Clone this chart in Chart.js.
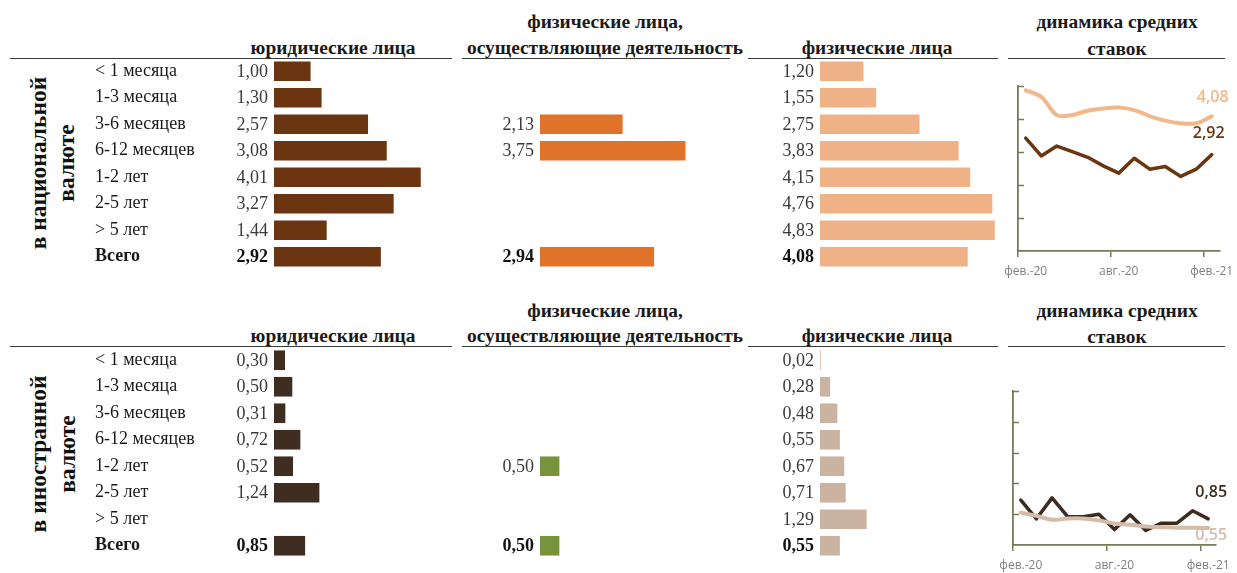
<!DOCTYPE html>
<html><head><meta charset="utf-8">
<script src="https://cdn.jsdelivr.net/npm/chart.js@4.4.1/dist/chart.umd.min.js"></script>
<style>
html,body{margin:0;padding:0;background:#fff;}
body{width:1237px;height:573px;position:relative;overflow:hidden;font-family:"Liberation Serif",serif;color:#111;}
canvas{position:absolute;}
.h{position:absolute;font-weight:bold;font-size:19.4px;white-space:nowrap;line-height:1;transform:translate(-50%,-50%);color:#1a1a1a;}
.u{position:absolute;height:0;border-top:1.6px solid #3a3a3a;}
.v{position:absolute;font-weight:bold;font-size:23.5px;white-space:nowrap;line-height:1;transform:translate(-50%,-50%) rotate(-90deg);color:#111;}
</style></head><body>

<div class="h" style="left:605px;top:22px">физические лица,</div>
<div class="h" style="left:333px;top:48px">юридические лица</div>
<div class="h" style="left:605px;top:48px">осуществляющие деятельность</div>
<div class="h" style="left:877px;top:48px">физические лица</div>
<div class="h" style="left:1117px;top:22px">динамика средних</div>
<div class="h" style="left:1117px;top:49px">ставок</div>
<div class="u" style="left:10px;width:442px;top:58px"></div>
<div class="u" style="left:462px;width:268px;top:58px"></div>
<div class="u" style="left:748px;width:250px;top:58px"></div>
<div class="u" style="left:1008px;width:217px;top:58px"></div>
<div class="v" style="left:39px;top:163px">в национальной</div>
<div class="v" style="left:67px;top:163px">валюте</div>

<div class="h" style="left:605px;top:311px">физические лица,</div>
<div class="h" style="left:333px;top:336px">юридические лица</div>
<div class="h" style="left:605px;top:336px">осуществляющие деятельность</div>
<div class="h" style="left:877px;top:336px">физические лица</div>
<div class="h" style="left:1117px;top:311px">динамика средних</div>
<div class="h" style="left:1117px;top:337px">ставок</div>
<div class="u" style="left:10px;width:442px;top:346px"></div>
<div class="u" style="left:462px;width:268px;top:346px"></div>
<div class="u" style="left:748px;width:250px;top:346px"></div>
<div class="u" style="left:1008px;width:217px;top:346px"></div>
<div class="v" style="left:39px;top:454px">в иностранной</div>
<div class="v" style="left:68px;top:454px">валюте</div>

<canvas id="natLegal" style="left:95px;top:58px" width="362" height="212"></canvas>
<canvas id="natEnt" style="left:500px;top:58px" width="234" height="212"></canvas>
<canvas id="natInd" style="left:775px;top:58px" width="226" height="212"></canvas>
<canvas id="natTrend" style="left:990px;top:60px" width="247" height="222"></canvas>

<canvas id="fxLegal" style="left:95px;top:347px" width="362" height="212"></canvas>
<canvas id="fxEnt" style="left:500px;top:347px" width="234" height="212"></canvas>
<canvas id="fxInd" style="left:775px;top:347px" width="226" height="212"></canvas>
<canvas id="fxTrend" style="left:990px;top:360px" width="247" height="213"></canvas>

<script>
const categories = ['< 1 месяца','1-3 месяца','3-6 месяцев','6-12 месяцев','1-2 лет','2-5 лет','> 5 лет','Всего'];
const natLegal = [1.00,1.30,2.57,3.08,4.01,3.27,1.44,2.92];
const natEntrepreneurs = [null,null,2.13,3.75,null,null,null,2.94];
const natIndividuals = [1.20,1.55,2.75,3.83,4.15,4.76,4.83,4.08];
const fxLegal = [0.30,0.50,0.31,0.72,0.52,1.24,null,0.85];
const fxEntrepreneurs = [null,null,null,null,0.50,null,null,0.50];
const fxIndividuals = [0.02,0.28,0.48,0.55,0.67,0.71,1.29,0.55];

const months = ['фев.-20','мар.-20','апр.-20','май.-20','июн.-20','июл.-20','авг.-20','сен.-20','окт.-20','ноя.-20','дек.-20','янв.-21','фев.-21'];
const natLegalTrend = [3.42,2.88,3.18,3.01,2.84,2.58,2.36,2.81,2.48,2.56,2.26,2.48,2.92];
const natIndividualsTrend = [4.87,4.67,4.12,4.12,4.25,4.32,4.35,4.27,4.09,3.95,3.87,3.87,4.08];
const fxLegalTrend = [1.46,0.85,1.53,0.92,0.92,1.00,0.50,0.98,0.47,0.71,0.71,1.11,0.85];
const fxIndividualsTrend = [1.05,0.95,0.82,0.86,0.86,0.80,0.70,0.66,0.60,0.58,0.56,0.56,0.55];
const trendTickLabels = ['фев.-20','авг.-20','фев.-21'];

const fmt = v => v.toFixed(2).replace('.', ',');
const totalIndex = categories.length - 1;

const valueLabels = {
  id: 'valueLabels',
  afterDatasetsDraw(chart) {
    const ctx = chart.ctx, xs = chart.scales.x, ys = chart.scales.y;
    const x0 = xs.getPixelForValue(0);
    ctx.save();
    ctx.textAlign = 'right';
    ctx.textBaseline = 'middle';
    chart.data.datasets[0].data.forEach((v, i) => {
      if (v == null) return;
      const bold = i === totalIndex;
      ctx.font = (bold ? 'bold ' : '') + '18px "Liberation Serif"';
      ctx.fillStyle = bold ? '#111' : '#3a3a3a';
      ctx.fillText(fmt(v), x0 - 6, ys.getPixelForValue(i) + 1);
    });
    ctx.restore();
  }
};

function barChart(id, data, color, o) {
  return new Chart(document.getElementById(id), {
    type: 'bar',
    data: { labels: categories, datasets: [{ data, backgroundColor: color, borderWidth: 0, barPercentage: 0.74, categoryPercentage: 1 }] },
    options: {
      indexAxis: 'y', responsive: false, animation: false, events: [],
      devicePixelRatio: 1,
      layout: { padding: { left: o.padLeft, right: 0, top: 0, bottom: 0 } },
      plugins: { legend: { display: false }, tooltip: { enabled: false } },
      scales: {
        x: { display: false, min: 0, max: o.max },
        y: {
          display: o.showCats,
          grid: { display: false }, border: { display: false },
          ticks: {
            crossAlign: 'far', padding: 0, color: '#1a1a1a',
            font: c => ({ family: 'Liberation Serif', size: 18, weight: c.index === totalIndex ? 'bold' : 'normal' })
          },
          afterFit: s => { s.width = o.axisW; s.paddingTop = 0; s.paddingBottom = 0; }
        }
      }
    },
    plugins: [valueLabels]
  });
}

barChart('natLegal', natLegal, '#6b3511', { showCats: true, axisW: 179, padLeft: 0, max: 5 });
barChart('natEnt', natEntrepreneurs, '#e0732a', { showCats: false, axisW: 0, padLeft: 40, max: 5 });
barChart('natInd', natIndividuals, '#efb287', { showCats: false, axisW: 0, padLeft: 45, max: 5 });
barChart('fxLegal', fxLegal, '#3f2d22', { showCats: true, axisW: 179, padLeft: 0, max: 5 });
barChart('fxEnt', fxEntrepreneurs, '#77933c', { showCats: false, axisW: 0, padLeft: 40, max: 5 });
barChart('fxInd', fxIndividuals, '#cbb3a1', { showCats: false, axisW: 0, padLeft: 45, max: 5 });

const axisColor = '#767a58';

const trendDecor = {
  id: 'trendDecor',
  afterDraw(chart) {
    const ctx = chart.ctx, ys = chart.scales.y, xs = chart.scales.x;
    ctx.save();
    ctx.strokeStyle = axisColor;
    ctx.lineWidth = 1.5;
    ys.ticks.forEach(t => {
      if (t.value === 0) return;
      const y = Math.round(ys.getPixelForValue(t.value)) + 0.5;
      ctx.beginPath();
      ctx.moveTo(xs.left, y);
      ctx.lineTo(xs.left + 6, y);
      ctx.stroke();
    });
    ctx.font = '600 16px "Open Sans"';
    ctx.textAlign = 'center';
    ctx.textBaseline = 'middle';
    chart.data.datasets.forEach((ds, di) => {
      const meta = chart.getDatasetMeta(di);
      const last = meta.data[meta.data.length - 1];
      ctx.fillStyle = ds.labelColor;
      ctx.fillText(fmt(ds.data[ds.data.length - 1]), last.x + ds.labelDx, last.y + ds.labelDy);
    });
    ctx.restore();
  }
};

function trendChart(id, light, dark, lightColor, darkColor, lay) {
  return new Chart(document.getElementById(id), {
    type: 'line',
    data: {
      labels: months,
      datasets: [
        { data: light, borderColor: lightColor, borderWidth: 4, tension: 0.35, pointRadius: 0, fill: false,
          labelColor: lay.lightLabelColor, labelDx: lay.lightDx, labelDy: lay.lightDy, borderCapStyle: 'round', borderJoinStyle: 'round' },
        { data: dark, borderColor: darkColor, borderWidth: 3.5, tension: 0, pointRadius: 0, fill: false,
          labelColor: darkColor, labelDx: lay.darkDx, labelDy: lay.darkDy, borderCapStyle: 'round', borderJoinStyle: 'round' }
      ]
    },
    options: {
      responsive: false, animation: false, events: [], devicePixelRatio: 1,
      layout: { padding: { left: lay.padLeft, right: lay.padRight, top: lay.padTop, bottom: 0 } },
      plugins: { legend: { display: false }, tooltip: { enabled: false } },
      scales: {
        x: {
          type: 'category', offset: true,
          grid: { offset: true, drawOnChartArea: false, drawTicks: true, tickLength: 6, lineWidth: 1.5,
                  color: c => (c.index % 6 === 0 && c.index < months.length) ? axisColor : 'rgba(0,0,0,0)' },
          border: { display: true, color: axisColor, width: 1.8 },
          ticks: {
            autoSkip: false, maxRotation: 0, minRotation: 0, padding: 7, color: '#7f7f7f',
            font: { family: 'Open Sans', size: 12 },
            callback: (v, i) => (i % 6 === 0 ? trendTickLabels[i / 6] : '')
          },
          afterFit: s => { s.height = lay.xAxisH; s.paddingLeft = 0; s.paddingRight = 0; }
        },
        y: {
          min: 0, max: 5, ticks: { display: false, stepSize: 1 },
          grid: { drawOnChartArea: false, drawTicks: false },
          border: { display: true, color: axisColor, width: 1.8 },
          afterFit: s => { s.width = 0; s.paddingTop = 0; s.paddingBottom = 0; }
        }
      }
    },
    plugins: [trendDecor]
  });
}

trendChart('natTrend', natIndividualsTrend, natLegalTrend, '#f1b98b', '#6b3511',
  { padLeft: 28, padRight: 17.5, padTop: 26, xAxisH: 31,
    lightLabelColor: '#f1b98b', lightDx: 1, lightDy: -19, darkDx: -3, darkDy: -21 });
trendChart('fxTrend', fxIndividualsTrend, fxLegalTrend, '#d3bcaa', '#3d2b20',
  { padLeft: 23, padRight: 21, padTop: 31, xAxisH: 28,
    lightLabelColor: '#d3bcaa', lightDx: 3, lightDy: 7, darkDx: 3, darkDy: -26 });
</script>
</body></html>
